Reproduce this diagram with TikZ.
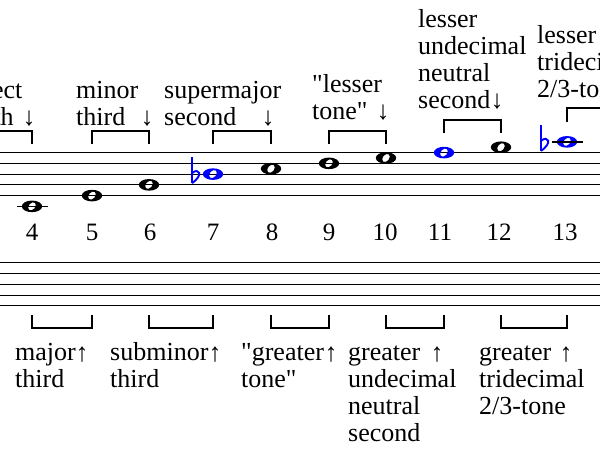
\documentclass[tikz,border=0pt]{standalone}
\usepackage{fontspec}
\setmainfont{Liberation Serif}[Ligatures=TeXOff]
\tikzset{
  staffline/.style={line width=1.1pt},
  ledger/.style={line width=1.6pt},
  bracket/.style={line width=1.6pt},
  lbl/.style={anchor=base west, align=left, inner sep=0pt,
    font=\fontsize{26}{26.7}\selectfont},
  arr/.style={anchor=base, inner sep=0pt, font=\fontsize{26}{26.7}\selectfont},
  num/.style={anchor=base, inner sep=0pt, font=\fontsize{25}{26}\selectfont},
  wnote/.pic={
    \fill[even odd rule] (0,0) ellipse [x radius=10.2pt, y radius=5.8pt]
      [rotate=-40] (0,0) ellipse [x radius=3.2pt, y radius=4.6pt];
  },
  flatsign/.pic={
    \draw[line width=1.2pt] (0,-17) -- (0,9);
    \draw[line width=1.9pt] (0,-1) .. controls (7,-7) and (12,1) .. (0,9);
  }
}
\begin{document}
\begin{tikzpicture}[x=1pt,y=-1pt]
  \useasboundingbox (0,0) rectangle (600,450);

  % staves
  \foreach \i in {0,...,4} {
    \draw[staffline] (0,{152.6+10.75*\i}) -- (600,{152.6+10.75*\i});
    \draw[staffline] (0,{262.7+10.8*\i}) -- (600,{262.7+10.8*\i});
  }

  % harmonics: number / x / staff step above bottom line / colour
  \foreach \n/\x/\s/\c in {4/32/-2/black, 5/92/0/black, 6/149/2/black,
      7/213/4/blue, 8/271/5/black, 9/329/6/black, 10/386/7/black,
      11/444/8/blue, 12/501/9/black, 13/567/10/blue} {
    \coordinate (n\n) at (\x,{195.6-5.375*\s});
    \pic[\c] at (n\n) {wnote};
  }
  \coordinate (n3) at (-28,0);
  \coordinate (n14) at (627,0);

  % ledger lines and flats
  \draw[ledger] ([xshift=-15pt]n4) -- ([xshift=16pt]n4);
  \draw[ledger] ([xshift=-15pt]n13) -- ([xshift=16pt]n13);
  \pic[blue] at ([xshift=-21pt]n7) {flatsign};
  \pic[blue] at ([xshift=-26pt]n13) {flatsign};

  % harmonic numbers
  \foreach \n/\x in {4/32, 5/92, 6/150, 7/213, 8/272, 9/329, 10/385,
      11/440, 12/499, 13/565}
    \node[num] (k\n) at (\x,240) {\n};

  % brackets above and below
  \foreach \p/\q/\top/\bot in {n3/n4/131/144, n5/n6/131/144, n7/n8/131/144,
      n9/n10/131/144, n11/n12/120/133, n13/n14/108/122}
    \draw[bracket] (\p |- 0,\bot) -- (\p |- 0,\top) -- (\q |- 0,\top)
      -- (\q |- 0,\bot);
  \foreach \p/\q in {n4/n5, n6/n7, n8/n9, n10/n11, n12/n13}
    \draw[bracket] (\p |- 0,315) -- (\p |- 0,328) -- (\q |- 0,328)
      -- (\q |- 0,315);

  % labels above (placed by the baseline of their last line)
  \node[lbl] (pfourth) at (-50,125) {perfect\\fourth};
  \node[lbl] (mthird) at (76,125) {minor\\third};
  \node[lbl] (smsecond) at (164,125) {supermajor\\second};
  \node[lbl] (ltone) at (312,119) {"lesser\\tone"};
  \node[lbl] (lunds) at (418,108) {lesser\\undecimal\\neutral\\second};
  \node[lbl] (ltrid) at (537,97) {lesser\\tridecimal\\2/3-tone};
  \node[arr] (a-pfourth) at (29,125) {↓};
  \node[arr] (a-mthird) at (147,125) {↓};
  \node[arr] (a-smsecond) at (268,125) {↓};
  \node[arr] (a-ltone) at (383,119) {↓};
  \node[arr] (a-lunds) at (497,108) {↓};

  % labels below
  \node[lbl] (Mthird) at (15,387) {major\\third};
  \node[lbl] (smthird) at (110,387) {subminor\\third};
  \node[lbl] (gtone) at (241,387) {"greater\\tone"};
  \node[lbl] (gunds) at (348,441) {greater\\undecimal\\neutral\\second};
  \node[lbl] (gtrid) at (479,414) {greater\\tridecimal\\2/3-tone};
  \foreach \x/\m in {82/Mthird, 215/smthird, 331/gtone, 437/gunds, 566/gtrid}
    \node[arr] (a-\m) at (\x,361) {↑};
\end{tikzpicture}
\end{document}
